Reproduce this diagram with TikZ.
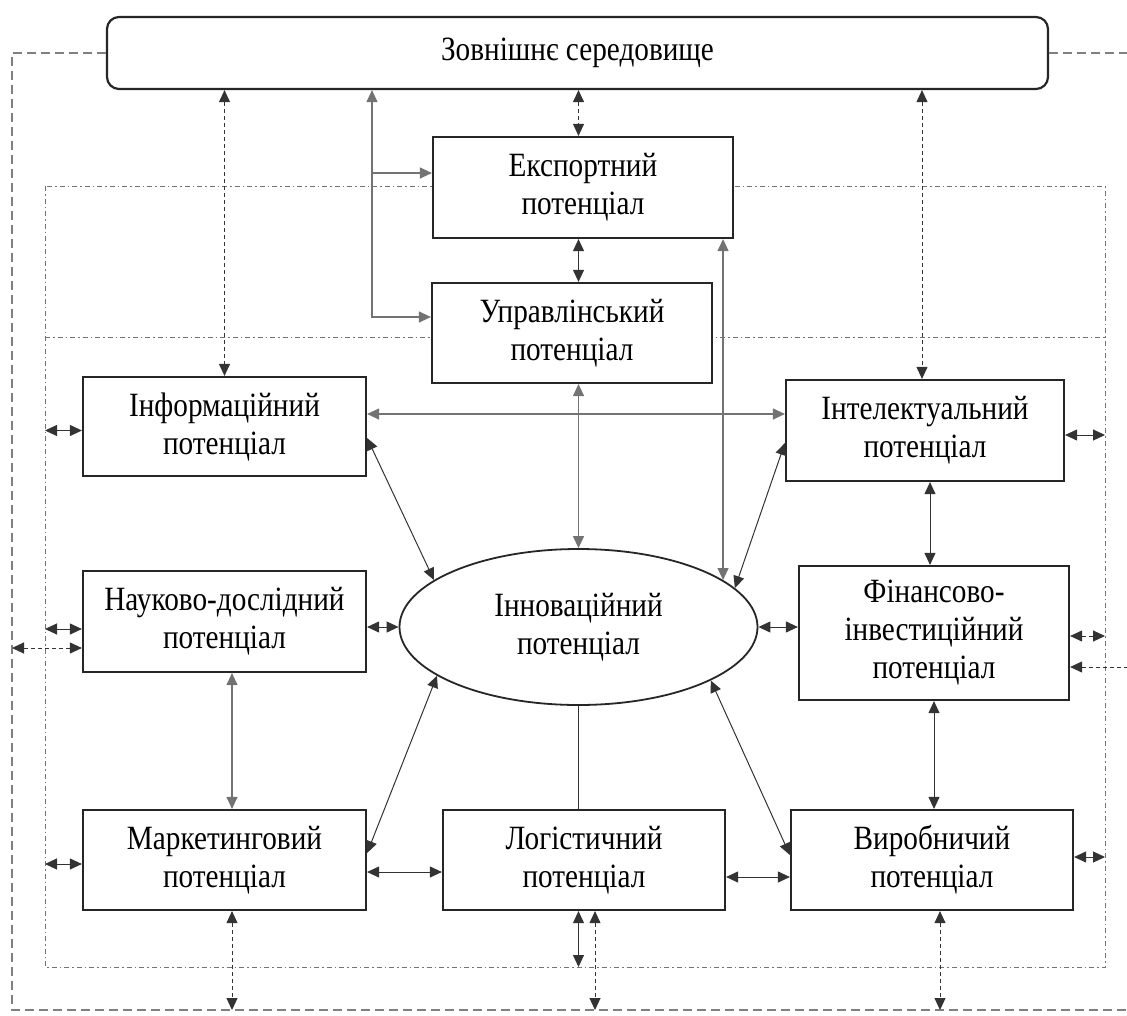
\documentclass[tikz,border=0pt]{standalone}
\usepackage{fontspec}
\setmainfont{Liberation Serif}[FakeStretch=0.86]
\usetikzlibrary{arrows.meta,shapes.geometric}
\begin{document}
\begin{tikzpicture}[x=1pt,y=-1pt,
  >={Triangle[length=12pt,width=11pt]},
  box/.style={draw=black!85,line width=2.2pt,fill=white,align=center,inner sep=0pt,
    font=\fontsize{34}{38}\selectfont},
  link/.style={draw=black!80,line width=1pt},
  dlink/.style={draw=black!80,line width=1pt,dash pattern=on 4pt off 3pt},
  glink/.style={draw=black!55,line width=1.2pt},
  frameA/.style={draw=black!55,line width=1pt,dash pattern=on 5pt off 3pt on 1.5pt off 3pt},
  frameB/.style={draw=black!50,line width=1.3pt,dash pattern=on 9pt off 5pt},
]
\useasboundingbox (0,0) rectangle (1127,1015);
\clip (0,0) rectangle (1127,1015);

% reference lines of the two frames
\coordinate (fL) at (45,0);
\coordinate (fR) at (1105,0);
\coordinate (fB) at (0,967);
\coordinate (oL) at (12,0);
\coordinate (oR) at (1140,0);
\coordinate (oB) at (0,1010);
% columns of vertical links
\coordinate (cG) at (372,0);
\coordinate (cI) at (922,0);
\coordinate (cF) at (930,0);
\coordinate (cS) at (232,0);
\coordinate (cL) at (595,0);
\coordinate (cV) at (940,0);

% inner (enterprise) frame
\draw[frameA] (45,186) rectangle (1105,967);
\draw[frameA] (45,337) -- (1105,337);

% blocks
\node[box,minimum width=941pt,minimum height=72pt,rounded corners=12pt] (top) at (577.5,53) {Зовнішнє середовище};
\node[box,minimum width=300pt,minimum height=101pt] (ext) at (583,187.5) {Експортний\\потенціал};
\node[box,minimum width=280pt,minimum height=100pt] (man) at (572,333) {Управлінський\\потенціал};
\node[box,minimum width=283pt,minimum height=99pt] (info) at (224.5,426.5) {Інформаційний\\потенціал};
\node[box,minimum width=283pt,minimum height=101pt] (sci) at (224.5,621.5) {Науково-дослідний\\потенціал};
\node[box,minimum width=283pt,minimum height=100pt] (mark) at (224.5,860) {Маркетинговий\\потенціал};
\node[box,minimum width=282pt,minimum height=100pt] (log) at (584,860) {Логістичний\\потенціал};
\node[box,minimum width=282pt,minimum height=100pt] (vyr) at (932,860) {Виробничий\\потенціал};
\node[box,minimum width=278pt,minimum height=101pt] (intel) at (925,430.5) {Інтелектуальний\\потенціал};
\node[box,minimum width=270pt,minimum height=134pt] (fin) at (934,633) {Фінансово-\\інвестиційний\\потенціал};
\node[box,ellipse,line width=1.8pt,minimum width=358pt,minimum height=156pt] (inn) at (578.5,627) {Інноваційний\\потенціал};

% outer (environment) frame
\draw[frameB] (top.west) -| (oL |- oB) -- (oR |- oB);
\draw[frameB] (top.east) -- (oR |- top.east);

% attachment points on block sides
\coordinate (gm) at ([yshift=16pt]man.west);
\coordinate (ge) at ([yshift=14.5pt]ext.west);
\coordinate (ia) at ([yshift=-11.5pt]info.east);
\coordinate (ib) at ([yshift=-12.5pt]intel.west);
\coordinate (ic) at ([yshift=12.5pt]info.east);
\coordinate (ma) at ([yshift=7pt]mark.east);
\coordinate (mb) at ([yshift=-12pt]mark.east);
\coordinate (va) at ([yshift=5pt]vyr.west);
\coordinate (la) at ([yshift=-17pt]log.east);
\coordinate (i1) at ([yshift=-4pt]info.west);
\coordinate (s1) at ([yshift=-7.5pt]sci.west);
\coordinate (s2) at ([yshift=-26.5pt]sci.west);
\coordinate (m1) at ([yshift=-4pt]mark.west);
\coordinate (t1) at ([yshift=-4.5pt]intel.east);
\coordinate (f1) at ([yshift=-3pt]fin.east);
\coordinate (f2) at ([yshift=-34pt]fin.east);
\coordinate (v1) at ([yshift=3pt]vyr.east);

% links with the external environment
\draw[dlink,<->] (top.south -| info.north) -- (info.north);
\draw[dlink,<->] (top.south -| inn.north) -- (ext.north -| inn.north);
\draw[dlink,<->] (top.south -| cI) -- (intel.north -| cI);
\draw[glink,<->] (top.south -| cG) -- (gm -| cG) -- (gm);
\draw[glink,->] (ge -| cG) -- (ge);

% links inside the enterprise
\draw[link,<->] (ext.south -| inn.north) -- (man.north -| inn.north);
\draw[glink,<->] (man.south -| inn.north) -- (inn.north);
\draw[glink,<->] (ext.south -| inn.18.3) -- (inn.18.3);
\draw[glink,<->] (ic) -- (ic -| intel.west);
\draw[link,<->] (ia) -- (inn.162);
\draw[link,<->] (ib) -- (inn.14);
\draw[link,<->] (sci.east |- inn.west) -- (inn.west);
\draw[link,<->] (inn.east) -- (inn.east -| fin.west);
\draw[link,<->] (intel.south -| cF) -- (fin.north -| cF);
\draw[link,<->] (fin.south) -- (fin.south |- vyr.north);
\draw[glink,<->] (sci.south -| cS) -- (mark.north -| cS);
\draw[link,<->] (ma) -- (inn.199.5);
\draw[link,<->] (mb) -- (mb -| log.west);
\draw[link] (inn.south) -- (inn.south |- log.north);
\draw[link,<->] (inn.-22) -- (va);
\draw[link,<->] (la) -- (la -| vyr.west);

% links to the frames on the sides
\draw[link,<->] (i1) -- (i1 -| fL);
\draw[link,<->] (s1) -- (s1 -| fL);
\draw[dlink,<->] (s2) -- (s2 -| oL);
\draw[link,<->] (m1) -- (m1 -| fL);
\draw[link,<->] (t1) -- (t1 -| fR);
\draw[dlink,<->] (f1) -- (f1 -| fR);
\draw[dlink,<->] (f2) -- (f2 -| oR);
\draw[link,<->] (v1) -- (v1 -| fR);

% links to the frames at the bottom
\draw[dlink,<->] (mark.south -| cS) -- (cS |- oB);
\draw[link,<->] (log.south -| inn.south) -- (inn.south |- fB);
\draw[dlink,<->] (log.south -| cL) -- (cL |- oB);
\draw[dlink,<->] (vyr.south -| cV) -- (cV |- oB);
\end{tikzpicture}
\end{document}
